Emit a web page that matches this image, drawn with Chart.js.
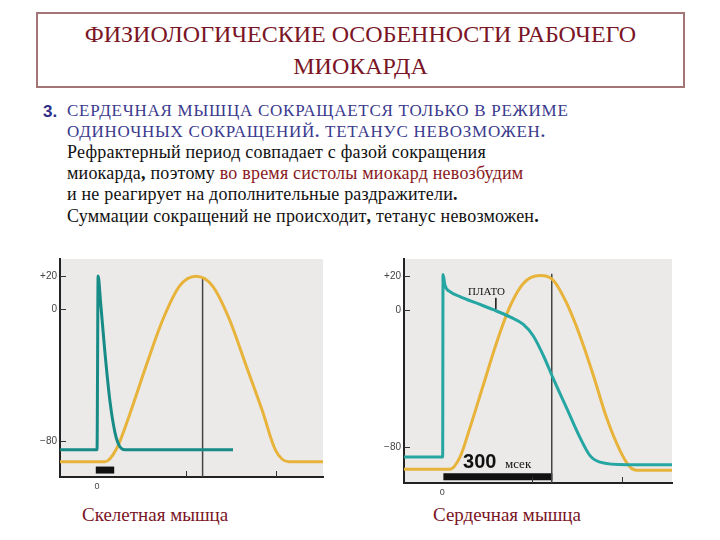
<!DOCTYPE html>
<html>
<head>
<meta charset="utf-8">
<script src="https://cdn.jsdelivr.net/npm/chart.js@4.4.0/dist/chart.umd.min.js"></script>
<style>
  body { margin: 0; width: 720px; height: 540px; background: #fff; position: relative; overflow: hidden; }
  .serif { font-family: "Liberation Serif", "Times New Roman", serif; }
  #title { position: absolute; left: 36px; top: 12px; width: 645px; height: 68px; border: 2px solid #a57474; color: #7a1526; font-size: 24px; line-height: 32px; text-align: center; padding-top: 4px; box-sizing: content-box; }
  .ln { position: absolute; left: 67px; font-size: 18px; line-height: 1; white-space: nowrap; color: #111; letter-spacing: 0.2px; }
  .blue { color: #3a3a8e; font-size: 17px; letter-spacing: 0.75px; }
  .red { color: #8a1a22; }
  #num { position: absolute; left: 43px; top: 103px; font-family: "Liberation Sans", Arial, sans-serif; font-weight: bold; font-size: 17px; color: #2f2f8a; line-height: 1; }
  .cap { position: absolute; font-size: 19px; line-height: 1; color: #7a1526; white-space: nowrap; }
  .box { position: absolute; }
</style>
</head>
<body>
<div id="title" class="serif">ФИЗИОЛОГИЧЕСКИЕ ОСОБЕННОСТИ РАБОЧЕГО<br>МИОКАРДА</div>

<div id="num">3.</div>
<div class="ln blue serif" style="top:102px">СЕРДЕЧНАЯ МЫШЦА СОКРАЩАЕТСЯ ТОЛЬКО В РЕЖИМЕ</div>
<div class="ln blue serif" style="top:123px">ОДИНОЧНЫХ СОКРАЩЕНИЙ<b>.</b> ТЕТАНУС НЕВОЗМОЖЕН<b>.</b></div>
<div class="ln serif" style="top:143px">Рефрактерный период совпадает с фазой сокращения</div>
<div class="ln serif" style="top:164px">миокарда<b>,</b> поэтому <span class="red">во время систолы миокард невозбудим</span></div>
<div class="ln serif" style="top:185px">и не реагирует на дополнительные раздражители<b>.</b></div>
<div class="ln serif" style="top:207px">Суммации сокращений не происходит<b>,</b> тетанус невозможен<b>.</b></div>

<div class="box" style="left:20px; top:250px; width:310px; height:250px;"><canvas id="skeletalChart"></canvas></div>
<div class="box" style="left:364px; top:250px; width:316px; height:252px;"><canvas id="cardiacChart"></canvas></div>

<div class="cap serif" style="left:82px; top:505px;">Скелетная мышца</div>
<div class="cap serif" style="left:433px; top:505px;">Сердечная мышца</div>

<script>
// --- data (x in ms, y in mV) ---

// skeletal muscle
const skelApX = [-21, 0, 0.6, 2, 4.4, 7.2, 10, 12.4, 15.6, 20, 76];
const skelApY = [-85, -85, 20, 4, -26, -55.5, -74.5, -82.5, -85, -85, -85];
const skelTwitchX = [-21, 4.4, 10.9, 18.3, 27.6, 36.9, 46.1, 55.4, 64.6, 73.9, 83.2, 92.4, 99.8, 107.2, 127];
const skelTwitchY = [-92.3, -92.3, -84.4, -63.5, -33.8, -6, 13.9, 19.8, 13.9, -6, -33.8, -61.5, -85.4, -92.3, -92.3];
const skelMarkerX = [59, 59];
const skelMarkerY = [19, -101.5];
const skelStimX = [-0.7, 9.6];
const skelStimY = [-97.3, -97.3];
const skelXTicks = [0, 50, 100];

// cardiac muscle
const cardApX = [-107, 1, 2, 7.4, 21.3, 49, 95.4, 141.7, 188, 225, 252.8, 280.6, 308.3, 345.4, 382.5, 410.3, 438, 512, 638];
const cardApY = [-85.7, -85.7, 20.9, 14.6, 10.8, 8, 4.1, 0.3, -3.9, -8.3, -15, -26.4, -39.9, -57.1, -74.3, -84.8, -88.6, -90.1, -90.1];
const cardTwitchX = [-107, 21, 49, 76.9, 113.9, 151, 188, 225, 271.4, 308.3, 345.4, 382.5, 419.4, 456.4, 493.6, 521.4, 540, 638];
const cardTwitchY = [-92.8, -92.8, -85.7, -68.5, -43.6, -18.8, 2.2, 15.6, 20.2, 17.5, 4.1, -15, -37.9, -62.8, -81.9, -91.5, -93.4, -93.4];
const cardMarkerX = [304, 304];
const cardMarkerY = [21.3, -101];
const cardBarX = [3, 305.6];
const cardBarY = [-97.2, -97.2];
const cardPlateauX = [149, 148.5];
const cardPlateauY = [7.2, 0.5];
const cardXTicks = [0, 250, 500];

const yTicks = [-80, 0, 20];

const YELLOW = '#e8b33a';

function pts(xs, ys) {
    return xs.map((x, i) => ({ x: x, y: ys[i] }));
}

function lineSet(xs, ys, color, width, smooth) {
    return {
        data: pts(xs, ys),
        borderColor: color,
        borderWidth: width,
        pointRadius: 0,
        borderCapStyle: 'butt',
        cubicInterpolationMode: smooth ? 'monotone' : 'default',
        tension: 0
    };
}

// gray panel behind the plot, inward tick marks and text notes
const panelPlugin = {
    id: 'panel',
    beforeDraw(chart) {
        const a = chart.chartArea;
        const ctx = chart.ctx;
        ctx.save();
        ctx.fillStyle = '#ebeae9';
        ctx.fillRect(a.left, a.top, a.right - a.left, a.bottom - a.top);
        ctx.restore();
    },
    afterDraw(chart) {
        const a = chart.chartArea;
        const ctx = chart.ctx;
        const xs = chart.scales.x, ys = chart.scales.y;
        ctx.save();
        ctx.strokeStyle = '#333';
        ctx.lineWidth = 1;
        ys.ticks.forEach(t => {
            const y = Math.round(ys.getPixelForValue(t.value)) + 0.5;
            ctx.beginPath(); ctx.moveTo(a.left, y); ctx.lineTo(a.left + 6, y); ctx.stroke();
        });
        xs.ticks.forEach(t => {
            if (t.value === 0) return;
            const x = Math.round(xs.getPixelForValue(t.value)) + 0.5;
            ctx.beginPath(); ctx.moveTo(x, a.bottom); ctx.lineTo(x, a.bottom - 6); ctx.stroke();
        });
        (chart.options.plugins.panel.notes || []).forEach(n => {
            ctx.font = n.font;
            ctx.fillStyle = '#111';
            ctx.textBaseline = 'alphabetic';
            ctx.fillText(n.text, xs.getPixelForValue(n.x), ys.getPixelForValue(n.y));
        });
        ctx.restore();
    }
};

function makeChart(id, datasets, xMin, xMax, yMin, yMax, xTicks, pad, xAxisHeight, notes) {
    return new Chart(document.getElementById(id), {
        type: 'line',
        data: { datasets: datasets },
        plugins: [panelPlugin],
        options: {
            responsive: true,
            maintainAspectRatio: false,
            animation: false,
            layout: { padding: pad },
            plugins: {
                legend: { display: false },
                tooltip: { enabled: false },
                panel: { notes: notes }
            },
            scales: {
                x: {
                    type: 'linear',
                    min: xMin,
                    max: xMax,
                    grid: { display: false, drawTicks: false },
                    border: { display: true, color: '#222', width: 2 },
                    afterBuildTicks: axis => { axis.ticks = xTicks.map(v => ({ value: v })); },
                    afterFit: axis => { axis.height = xAxisHeight; },
                    ticks: {
                        padding: 4,
                        color: '#444',
                        font: { family: 'Liberation Sans', size: 9 },
                        callback: v => (v === 0 ? '0' : '')
                    }
                },
                y: {
                    min: yMin,
                    max: yMax,
                    grid: { display: false, drawTicks: false },
                    border: { display: true, color: '#222', width: 2 },
                    afterBuildTicks: axis => { axis.ticks = yTicks.map(v => ({ value: v })); },
                    afterFit: axis => { axis.width = 40; },
                    ticks: {
                        padding: 3,
                        color: '#444',
                        font: { family: 'Liberation Sans', size: 10 },
                        callback: v => (v > 0 ? '+' + v : v < 0 ? '\u2212' + Math.abs(v) : '0')
                    }
                }
            }
        }
    });
}

makeChart('skeletalChart', [
    lineSet(skelApX, skelApY, '#178c87', 3, true),
    lineSet(skelTwitchX, skelTwitchY, YELLOW, 3, true),
    lineSet(skelMarkerX, skelMarkerY, '#444', 1.5, false),
    lineSet(skelStimX, skelStimY, '#111', 7, false)
], -20.7, 126.3, -101.5, 30.3, skelXTicks, { top: 6, right: 7, left: 0, bottom: 0 }, 23, []);

makeChart('cardiacChart', [
    lineSet(cardApX, cardApY, '#26a6a2', 3, true),
    lineSet(cardTwitchX, cardTwitchY, YELLOW, 3, true),
    lineSet(cardMarkerX, cardMarkerY, '#444', 1.5, false),
    lineSet(cardBarX, cardBarY, '#111', 7, false),
    lineSet(cardPlateauX, cardPlateauY, '#222', 1, false)
], -106.4, 638, -100.8, 29.9, cardXTicks, { top: 5, right: 8, left: 0, bottom: 0 }, 19, [
    { text: 'ПЛАТО', x: 71.4, y: 8.9, font: '11px "Liberation Serif"' },
    { text: '300', x: 57.5, y: -92.2, font: 'bold 20px "Liberation Sans"' },
    { text: 'мсек', x: 174, y: -92.2, font: '13px "Liberation Serif"' }
]);
</script>
</body>
</html>
